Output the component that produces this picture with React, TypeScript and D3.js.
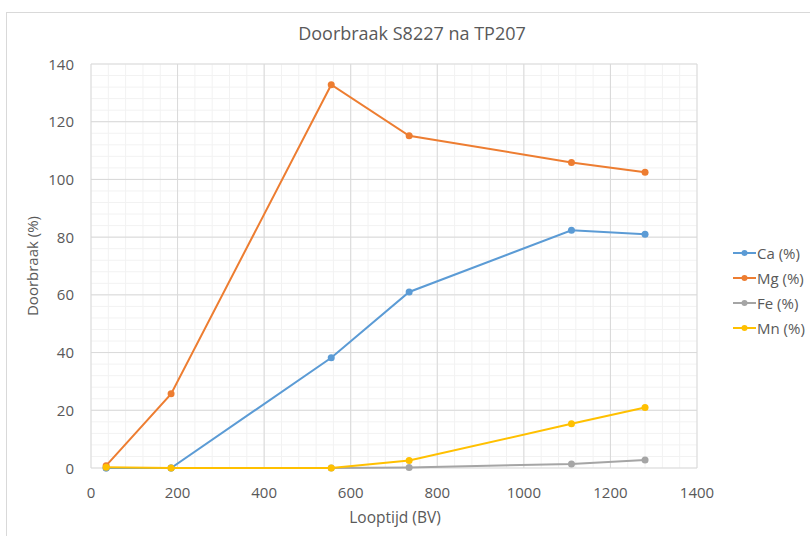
import React from "react";
import * as d3 from "d3";

const xValues = [35, 185, 555, 735, 1110, 1280];
const caValues = [0, 0, 38.2, 61, 82.4, 81];
const mgValues = [0.8, 25.7, 132.8, 115.1, 105.9, 102.5];
const feValues = [0, 0, 0, 0.2, 1.4, 2.8];
const mnValues = [0.3, 0, 0, 2.6, 15.3, 21];
const seriesNames = ["Ca (%)", "Mg (%)", "Fe (%)", "Mn (%)"];
const seriesColors = ["#5b9bd5", "#ed7d31", "#a5a5a5", "#ffc000"];
const xTicks = [0, 200, 400, 600, 800, 1000, 1200, 1400];
const yTicks = [0, 20, 40, 60, 80, 100, 120, 140];

const W = 810;
const H = 536;
const left = 91;
const right = 697;
const top = 64;
const bottom = 468;
const FONT = "'Open Sans', 'Liberation Sans', sans-serif";

export default function App() {
  const x = d3.scaleLinear().domain([0, 1400]).range([left, right]);
  const y = d3.scaleLinear().domain([0, 140]).range([bottom, top]);
  const allSeries = [caValues, mgValues, feValues, mnValues];
  const line = d3
    .line<[number, number]>()
    .x((d) => x(d[0]))
    .y((d) => y(d[1]));
  const minorX = d3.range(0, 1400.001, 40);
  const minorY = d3.range(0, 140.001, 4);
  const order = [2, 0, 1, 3];
  return (
    <svg
      width={W}
      height={H}
      style={{ position: "absolute", left: 0, top: 0, background: "#fff" }}
      fontFamily={FONT}
    >
      <rect x={6.5} y={12.5} width={W + 10} height={H + 10} fill="#fff" stroke="#d9d9d9" />
      <text x={412} y={40} textAnchor="middle" fontSize={18} fill="#595959">
        Doorbraak S8227 na TP207
      </text>
      {minorX.map((v, i) => (
        <line key={"mx" + i} x1={x(v)} x2={x(v)} y1={top} y2={bottom} stroke="#f2f2f2" strokeWidth={1} />
      ))}
      {minorY.map((v, i) => (
        <line key={"my" + i} x1={left} x2={right} y1={y(v)} y2={y(v)} stroke="#f2f2f2" strokeWidth={1} />
      ))}
      {xTicks.map((v) => (
        <line key={"gx" + v} x1={x(v)} x2={x(v)} y1={top} y2={bottom} stroke="#d9d9d9" strokeWidth={1} />
      ))}
      {yTicks.map((v) => (
        <line key={"gy" + v} x1={left} x2={right} y1={y(v)} y2={y(v)} stroke="#d9d9d9" strokeWidth={1} />
      ))}
      {xTicks.map((v) => (
        <text key={"tx" + v} x={x(v)} y={497.5} textAnchor="middle" fontSize={15} fill="#595959">
          {v}
        </text>
      ))}
      {yTicks.map((v) => (
        <text key={"ty" + v} x={74} y={y(v) + 5.5} textAnchor="end" fontSize={15} fill="#595959">
          {v}
        </text>
      ))}
      <text x={395} y={523} textAnchor="middle" fontSize={15.5} fill="#595959">
        Looptijd (BV)
      </text>
      <text
        transform={`translate(38, ${(top + bottom) / 2}) rotate(-90)`}
        textAnchor="middle"
        fontSize={15}
        fill="#595959"
      >
        Doorbraak (%)
      </text>
      {order.map((si) => {
        const pts: [number, number][] = xValues.map((xv, i) => [xv, allSeries[si][i]]);
        return (
          <g key={"s" + si}>
            <path d={line(pts) || ""} fill="none" stroke={seriesColors[si]} strokeWidth={2} />
            {pts.map((p, i) => (
              <circle key={i} cx={x(p[0])} cy={y(p[1])} r={3.5} fill={seriesColors[si]} />
            ))}
          </g>
        );
      })}
      {seriesNames.map((name, i) => {
        const ly = 253 + i * 25;
        return (
          <g key={name}>
            <line x1={733} x2={756} y1={ly} y2={ly} stroke={seriesColors[i]} strokeWidth={2} />
            <circle cx={744.5} cy={ly} r={3} fill={seriesColors[i]} />
            <text x={757} y={ly + 5.5} fontSize={15} fill="#595959">
              {name}
            </text>
          </g>
        );
      })}
    </svg>
  );
}
